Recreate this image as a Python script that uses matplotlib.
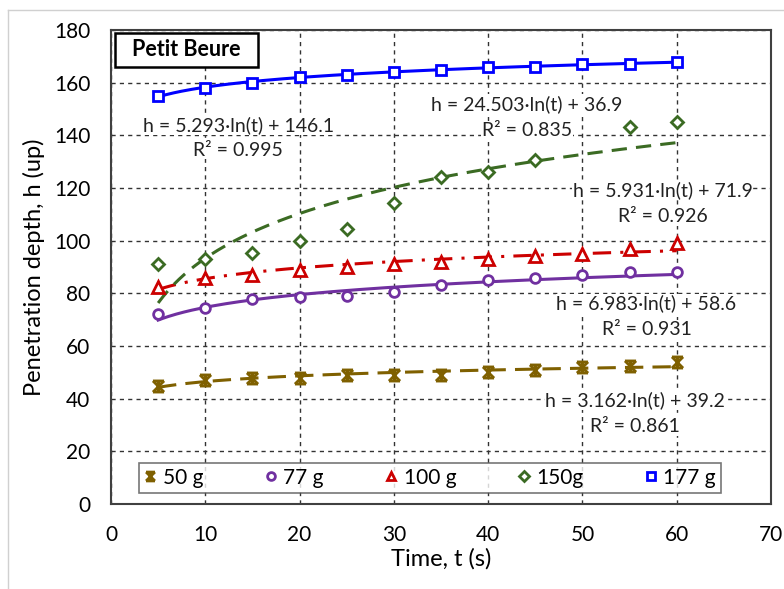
import numpy as np
import matplotlib
matplotlib.use("Agg")
import matplotlib.pyplot as plt
from matplotlib.path import Path
from matplotlib.lines import Line2D
from matplotlib.patches import Rectangle

plt.rcParams['font.family'] = ['Lato', 'DejaVu Sans']

# ---- data ----
t_all = [5, 10, 15, 20, 25, 30, 35, 40, 45, 50, 55, 60]
h_50 = [45, 47, 48, 48, 49, 49, 49, 50, 51, 52, 52.5, 54]
h_77 = [72, 74.5, 78, 78.5, 79, 80.5, 83, 85, 86, 87, 88, 88]
h_100 = [82.5, 86, 87, 89, 90, 91, 92, 93, 94, 95, 97, 99]
t_150 = [5, 10, 15, 20, 25, 30, 35, 40, 45, 55, 60]
h_150 = [91, 93, 95.3, 100, 104.4, 114.3, 124.2, 126.2, 130.6, 143.3, 145.2]
h_177 = [155, 158, 160, 162, 163, 164, 165, 166, 166, 167, 167, 168]

labels = ['50 g', '77 g', '100 g', '150g', '177 g']
slopes = [3.162, 6.983, 5.931, 24.503, 5.293]
intercepts = [39.2, 58.6, 71.9, 36.9, 146.1]
r2 = ['0.861', '0.931', '0.926', '0.835', '0.995']
eq_pos = [(55.6, 39.5, 29.4), (56.8, 76.2, 66.4), (58.5, 119, 109),
          (44.1, 152, 142), (13.5, 144, 134.4)]

colors = ['#7F6000', '#7030A0', '#CC0000', '#3B6B23', '#0000FF']

star = Path([(-1, -1), (1, 1), (-1, 1), (1, -1), (0, -1), (0, 1),
             (-1, 1), (1, 1), (-1, -1), (1, -1)],
            [Path.MOVETO, Path.LINETO] * 5)
markers = [star, 'o', '^', 'D', 's']
msizes = [8, 7, 8, 6, 7]
styles = [(0, (6, 3)), '-', (0, (6, 3, 1, 3)), (0, (5, 3)), '-']

series_t = [t_all, t_all, t_all, t_150, t_all]
series_h = [h_50, h_77, h_100, h_150, h_177]

fig = plt.figure(figsize=(7.84, 5.89), dpi=100)
ax = fig.add_axes([111/784, 1-504/589, 660/784, 474/589])

for i in range(5):
    tt = np.array(series_t[i], dtype=float)
    ax.plot(tt, series_h[i], linestyle='none', marker=markers[i], ms=msizes[i],
            mfc='white' if i != 0 else colors[i], mec=colors[i], mew=2,
            color=colors[i], label=labels[i], zorder=4)
    tf = np.linspace(5, 60, 200)
    ax.plot(tf, slopes[i]*np.log(tf) + intercepts[i], color=colors[i],
            lw=2.2, linestyle=styles[i], zorder=3)
    x, y1, y2 = eq_pos[i]
    bb = dict(facecolor='white', edgecolor='none', pad=0.5)
    ax.text(x, y1, f"h = {slopes[i]:.3f}·ln(t) + {intercepts[i]:.1f}",
            ha='center', va='center', fontsize=14, color='#222222', bbox=bb, zorder=2)
    ax.text(x, y2, f"R² = {r2[i]}", ha='center', va='center',
            fontsize=14, color='#222222', bbox=bb, zorder=2)

ax.set_xlim(0, 70)
ax.set_ylim(0, 180)
ax.set_xticks(range(0, 71, 10))
ax.set_yticks(range(0, 181, 20))
ax.grid(True, color='#333333', linestyle=(0, (3, 3)), lw=1)
ax.set_axisbelow(True)
ax.tick_params(length=0, labelsize=15)
ax.tick_params(axis='y', pad=15)
ax.tick_params(axis='x', pad=15)
for s in ax.spines.values():
    s.set_color('#404040')
    s.set_linewidth(1.5)
ax.set_xlabel('Time, t (s)', fontsize=17, labelpad=2)
ax.set_ylabel('Penetration depth, h (up)', fontsize=17, labelpad=6)

ax.add_patch(Rectangle((4/660, 437/474), 143/660, 34/474, transform=ax.transAxes,
                       facecolor='white', edgecolor='black', lw=1.8, zorder=6))
ax.text(75.5/660, 454/474, 'Petit Beure', transform=ax.transAxes, fontsize=15.5,
        fontweight='bold', ha='center', va='center', zorder=7)

leg = ax.legend(loc='lower left', bbox_to_anchor=(28/660, 11/474, 582/660, 34/474),
                mode='expand', ncol=5, fontsize=15, frameon=True, fancybox=False,
                handlelength=0.6, handletextpad=0.3, borderpad=0.25,
                borderaxespad=0, markerscale=0.8)
leg.get_frame().set_edgecolor('#555555')
leg.get_frame().set_linewidth(1.2)
leg.set_zorder(7)

fig.add_artist(Line2D([8/784, 8/784], [0, 1-10/589], color='#D0D0D0', lw=1,
                      transform=fig.transFigure))
fig.add_artist(Line2D([8/784, 1], [1-10/589, 1-10/589], color='#D0D0D0', lw=1,
                      transform=fig.transFigure))

fig.savefig('out.png', dpi=100)
